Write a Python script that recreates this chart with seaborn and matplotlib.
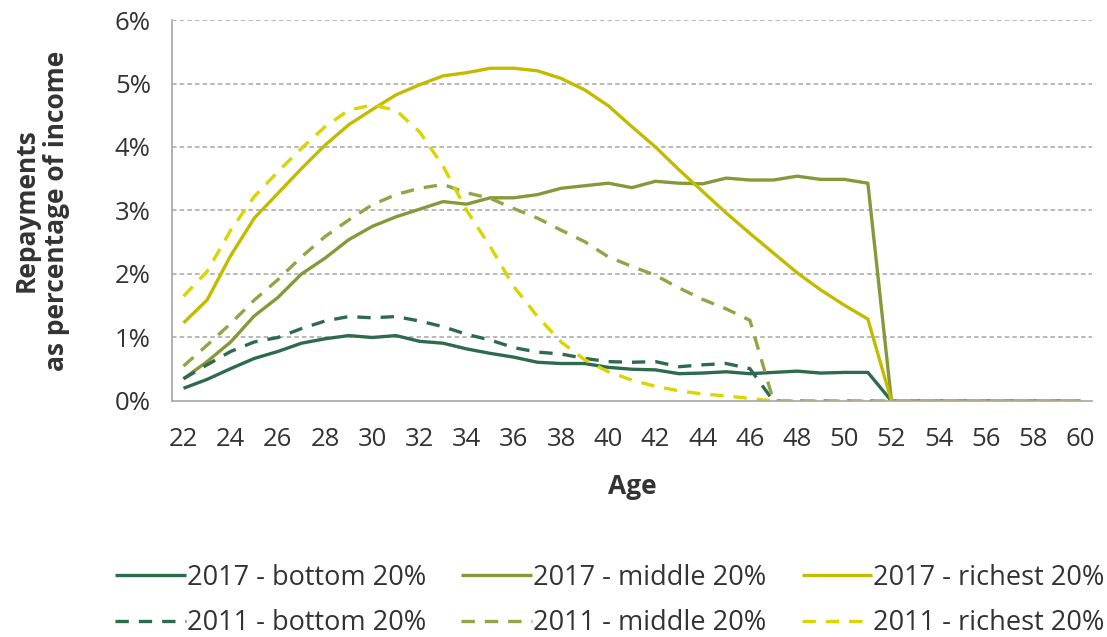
import numpy as np
import pandas as pd
import matplotlib
matplotlib.use("Agg")
import matplotlib.pyplot as plt
import seaborn as sns
from matplotlib.ticker import FixedLocator, FuncFormatter

ages = list(range(22, 61))

r2017_bottom = [0.20, 0.34, 0.51, 0.67, 0.78, 0.91, 0.98, 1.03, 1.00, 1.03, 0.94, 0.91, 0.82,
                0.75, 0.69, 0.61, 0.59, 0.59, 0.53, 0.50, 0.49, 0.43, 0.44, 0.46, 0.43, 0.45,
                0.47, 0.44, 0.45, 0.45] + [0.0] * 9
r2017_middle = [0.35, 0.62, 0.93, 1.34, 1.63, 2.00, 2.25, 2.54, 2.75, 2.90, 3.02, 3.14, 3.10,
                3.20, 3.20, 3.25, 3.35, 3.39, 3.43, 3.36, 3.46, 3.43, 3.42, 3.51, 3.48, 3.48,
                3.54, 3.49, 3.49, 3.43] + [0.0] * 9
r2017_richest = [1.23, 1.59, 2.29, 2.88, 3.27, 3.66, 4.03, 4.35, 4.59, 4.82, 4.98, 5.12, 5.17,
                 5.24, 5.24, 5.20, 5.08, 4.90, 4.65, 4.32, 4.00, 3.64, 3.30, 2.96, 2.64, 2.33,
                 2.02, 1.75, 1.51, 1.29] + [0.0] * 9
r2011_bottom = [0.35, 0.57, 0.78, 0.93, 1.00, 1.14, 1.26, 1.33, 1.31, 1.33, 1.26, 1.17, 1.05,
                0.96, 0.84, 0.77, 0.74, 0.67, 0.62, 0.61, 0.62, 0.54, 0.57, 0.59, 0.51] + [0.0] * 14
r2011_middle = [0.55, 0.88, 1.22, 1.59, 1.91, 2.27, 2.59, 2.85, 3.09, 3.25, 3.35, 3.41, 3.28,
                3.19, 3.03, 2.88, 2.69, 2.51, 2.27, 2.12, 1.98, 1.78, 1.60, 1.45, 1.27] + [0.0] * 14
r2011_richest = [1.65, 2.04, 2.69, 3.22, 3.61, 3.98, 4.32, 4.58, 4.66, 4.58, 4.24, 3.70, 3.00,
                 2.43, 1.80, 1.33, 0.93, 0.65, 0.46, 0.33, 0.23, 0.16, 0.11, 0.08, 0.04] + [0.0] * 14

series = [
    ("2017 - bottom 20%", r2017_bottom, "#2E6A4E", False),
    ("2017 - middle 20%", r2017_middle, "#86993A", False),
    ("2017 - richest 20%", r2017_richest, "#C3BB00", False),
    ("2011 - bottom 20%", r2011_bottom, "#2E6A4E", True),
    ("2011 - middle 20%", r2011_middle, "#93A345", True),
    ("2011 - richest 20%", r2011_richest, "#DAD400", True),
]

sns.set_style("white")
plt.rcParams['font.family'] = ['Open Sans', 'DejaVu Sans']

fig = plt.figure(figsize=(11.07, 6.37), dpi=100)
ax = fig.add_axes([0.1551, 0.3705, 0.8314, 0.5981])

handles = {}
for name, vals, col, dashed in series:
    df = pd.DataFrame({"age": ages, "val": vals})
    sns.lineplot(data=df, x="age", y="val", ax=ax, color=col, linewidth=2.4,
                 label=name, legend=False)
    ln = ax.get_lines()[-1]
    if dashed:
        ln.set_dashes((4.0, 3.0))
        ln.set_dash_capstyle("butt")
    ln.set_solid_capstyle("butt")
    handles[name] = ln

ax.set_xlim(21.5, 60.5)
ax.set_ylim(0, 6)

TXT = "#333333"
ax.xaxis.set_major_locator(FixedLocator(list(range(22, 61, 2))))
ax.xaxis.set_minor_locator(FixedLocator([a - 0.5 for a in range(22, 62)]))
ax.tick_params(axis='x', which='major', length=0, pad=19, labelsize=18.5, labelcolor=TXT)
ax.tick_params(axis='x', which='minor', length=7, width=1, color="#A6A6A6", direction='out')
ax.set_yticks([0, 1, 2, 3, 4, 5, 6])
ax.yaxis.set_major_formatter(FuncFormatter(lambda v, p: f"{int(v)}%"))
ax.tick_params(axis='y', which='major', length=6, width=1, color="#A6A6A6", pad=9,
               labelsize=18.5, labelcolor=TXT, direction='out')

ax.grid(False)
for yv in [1, 2, 3, 4, 5, 6]:
    ax.axhline(yv, color="#A6A6A6", linewidth=1.1, linestyle=(0, (3, 2)), zorder=0)

for s in ["top", "right"]:
    ax.spines[s].set_visible(False)
for s in ["left", "bottom"]:
    ax.spines[s].set_color("#A6A6A6")
    ax.spines[s].set_linewidth(1.2)

ax.set_xlabel("Age", fontsize=19, fontweight="bold", color=TXT)
ax.xaxis.set_label_coords(0.5, -0.19)
ax.set_ylabel("Repayments\nas percentage of income", fontsize=19, fontweight="bold",
              color=TXT, linespacing=1.2)
ax.yaxis.set_label_coords(-0.11, 0.5)

order = ["2017 - bottom 20%", "2011 - bottom 20%", "2017 - middle 20%",
         "2011 - middle 20%", "2017 - richest 20%", "2011 - richest 20%"]
leg = fig.legend([handles[n] for n in order], order, loc="lower center",
                 bbox_to_anchor=(0.551, -0.026), ncol=3, frameon=False, fontsize=19.5,
                 handlelength=2.6, handletextpad=0.05, columnspacing=1.3,
                 labelspacing=0.65, borderaxespad=0.2)
for t in leg.get_texts():
    t.set_color(TXT)

fig.savefig("out.png", dpi=100)
